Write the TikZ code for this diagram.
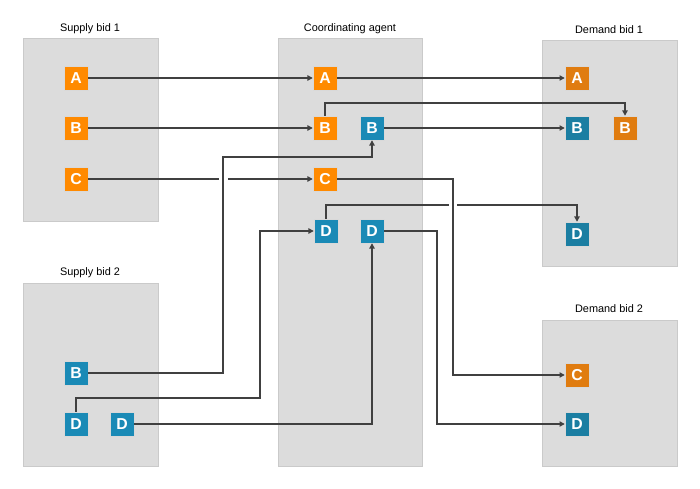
\documentclass[tikz,border=0pt]{standalone}
\usepackage{fontspec}
\setmainfont{Liberation Sans}
\usetikzlibrary{arrows.meta}
\definecolor{bidorange}{HTML}{FF8A00}
\definecolor{dimorange}{HTML}{E07C10}
\definecolor{bidblue}{HTML}{1A8AB6}
\definecolor{dimblue}{HTML}{1B7EA2}
\definecolor{panelgray}{HTML}{DCDCDC}
\definecolor{linkgray}{HTML}{404040}

\begin{document}
\begin{tikzpicture}[x=0.03cm,y=-0.03cm,
    panel/.style={fill=panelgray,draw=panelgray!92!black,line width=0.6pt},
    title/.style={font=\fontsize{9.3}{11}\selectfont},
    bid/.style={minimum size=0.72cm,inner sep=0pt,draw=white!85!black,line width=0.4pt,text=white,font=\fontsize{13.5}{15}\selectfont\bfseries},
    orangebid/.style={bid,fill=bidorange},
    bluebid/.style={bid,fill=bidblue},
    dimorangebid/.style={bid,fill=dimorange},
    dimbluebid/.style={bid,fill=dimblue},
    link/.style={draw=linkgray,line width=1pt,-{Triangle[length=4.5pt,width=4.5pt]}},
    gap/.style={fill=white}]
    \useasboundingbox (0,0) rectangle (700,489);

    \draw[panel] (23,38) rectangle (158,221);
    \draw[panel] (23,283) rectangle (158,466);
    \draw[panel] (278,38) rectangle (422,466);
    \draw[panel] (542,40) rectangle (677,266);
    \draw[panel] (542,320) rectangle (677,466);

    \node[title] (t1) at (90,29) {Supply bid 1};
    \node[title] (t2) at (90,273) {Supply bid 2};
    \node[title] (t3) at (350,29) {Coordinating agent};
    \node[title] (t4) at (609,30) {Demand bid 1};
    \node[title] (t5) at (609,309) {Demand bid 2};

    \node[orangebid] (sA) at (76,78) {A};
    \node[orangebid] (sB) at (76,128) {B};
    \node[orangebid] (sC) at (76,179) {C};

    \node[bluebid] (s2B) at (76,373) {B};
    \node[bluebid] (s2D) at (76,424) {D};
    \node[bluebid] (s2D2) at (122,424) {D};

    \node[orangebid] (cA) at (325,78) {A};
    \node[orangebid] (cBo) at (325,128) {B};
    \node[bluebid] (cBb) at (372,128) {B};
    \node[orangebid] (cC) at (325,179) {C};
    \node[bluebid] (cD) at (326,231) {D};
    \node[bluebid] (cD2) at (372,231) {D};

    \node[dimorangebid] (dA) at (577,78) {A};
    \node[dimbluebid] (dBb) at (577,128) {B};
    \node[dimorangebid] (dBo) at (625,128) {B};
    \node[dimbluebid] (dD) at (577,234) {D};

    \node[dimorangebid] (eC) at (577,375) {C};
    \node[dimbluebid] (eD) at (577,424) {D};

    \coordinate (bendB) at (325,103);
    \coordinate (bendD) at (326,205);
    \coordinate (jogB) at (223,157);
    \coordinate (jogS) at (260,398);
    \coordinate (jogC) at (453,179);
    \coordinate (jogD) at (437,231);

    \draw[link] (sA) -- (cA);
    \draw[link] (cA) -- (dA);
    \draw[link] (sB) -- (cBo);
    \draw[link] (cBo) -- (bendB) -| (dBo);
    \draw[link] (cBb) -- (dBb);
    \draw[link] (sC) -- (cC);
    \draw[link] (cD) -- (bendD) -| (dD);
    \draw[link] (cD2) -- (jogD) |- (eD);

    \fill[gap] (219,175) rectangle (228,183);
    \fill[gap] (449,201) rectangle (457,209);

    \draw[link] (cC) -- (jogC) |- (eC);
    \draw[link] (s2B) -| (jogB) -| (cBb);
    \draw[link] (s2D) |- (jogS) |- (cD);
    \draw[link] (s2D2) -| (cD2);
\end{tikzpicture}
\end{document}
